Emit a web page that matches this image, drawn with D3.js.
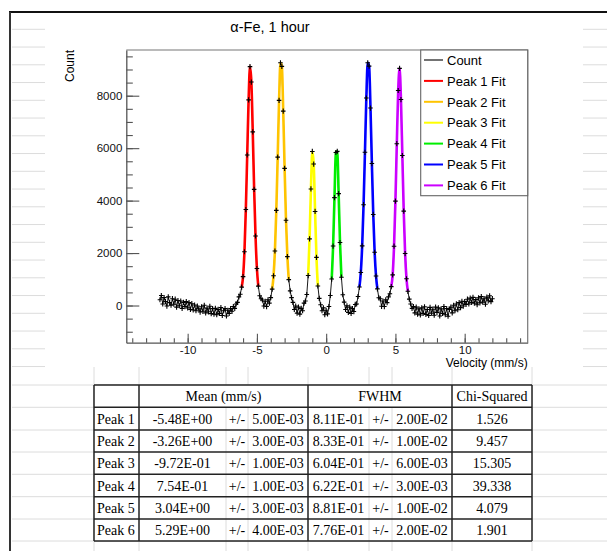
<!DOCTYPE html>
<html>
<head>
<meta charset="utf-8">
<script src="https://cdn.jsdelivr.net/npm/d3@7"></script>
<style>
    body { margin: 0; background: #fff; }
    svg { display: block; }
</style>
</head>
<body>
<svg id="sheet" width="607" height="551"></svg>
<script>
// Velocity bins (mm/s) and counts
var velocity = [
    -12.0, -11.9, -11.8, -11.7, -11.6, -11.5, -11.4, -11.3, -11.2, -11.1,
    -11.0, -10.9, -10.8, -10.7, -10.6, -10.5, -10.4, -10.3, -10.2, -10.1,
    -10.0, -9.9, -9.8, -9.7, -9.6, -9.5, -9.4, -9.3, -9.2, -9.1,
    -9.0, -8.9, -8.8, -8.7, -8.6, -8.5, -8.4, -8.3, -8.2, -8.1,
    -8.0, -7.9, -7.8, -7.7, -7.6, -7.5, -7.4, -7.3, -7.2, -7.1,
    -7.0, -6.9, -6.8, -6.7, -6.6, -6.5, -6.4, -6.3, -6.2, -6.1,
    -6.0, -5.9, -5.8, -5.7, -5.6, -5.5, -5.4, -5.3, -5.2, -5.1,
    -5.0, -4.9, -4.8, -4.7, -4.6, -4.5, -4.4, -4.3, -4.2, -4.1,
    -4.0, -3.9, -3.8, -3.7, -3.6, -3.5, -3.4, -3.3, -3.2, -3.1,
    -3.0, -2.9, -2.8, -2.7, -2.6, -2.5, -2.4, -2.3, -2.2, -2.1,
    -2.0, -1.9, -1.8, -1.7, -1.6, -1.5, -1.4, -1.3, -1.2, -1.1,
    -1.0, -0.9, -0.8, -0.7, -0.6, -0.5, -0.4, -0.3, -0.2, -0.1,
    0.0, 0.1, 0.2, 0.3, 0.4, 0.5, 0.6, 0.7, 0.8, 0.9,
    1.0, 1.1, 1.2, 1.3, 1.4, 1.5, 1.6, 1.7, 1.8, 1.9,
    2.0, 2.1, 2.2, 2.3, 2.4, 2.5, 2.6, 2.7, 2.8, 2.9,
    3.0, 3.1, 3.2, 3.3, 3.4, 3.5, 3.6, 3.7, 3.8, 3.9,
    4.0, 4.1, 4.2, 4.3, 4.4, 4.5, 4.6, 4.7, 4.8, 4.9,
    5.0, 5.1, 5.2, 5.3, 5.4, 5.5, 5.6, 5.7, 5.8, 5.9,
    6.0, 6.1, 6.2, 6.3, 6.4, 6.5, 6.6, 6.7, 6.8, 6.9,
    7.0, 7.1, 7.2, 7.3, 7.4, 7.5, 7.6, 7.7, 7.8, 7.9,
    8.0, 8.1, 8.2, 8.3, 8.4, 8.5, 8.6, 8.7, 8.8, 8.9,
    9.0, 9.1, 9.2, 9.3, 9.4, 9.5, 9.6, 9.7, 9.8, 9.9,
    10.0, 10.1, 10.2, 10.3, 10.4, 10.5, 10.6, 10.7, 10.8, 10.9,
    11.0, 11.1, 11.2, 11.3, 11.4, 11.5, 11.6, 11.7, 11.8, 11.9,
    12.0
];
var counts = [
    220, 380, 60, 300, 150, -20, 330, 110, 10, 260,
    50, 240, -60, 190, -10, 170, -110, 120, -40, 150,
    -90, 110, -150, 70, -170, 20, -200, -20, -130, -250,
    -50, -220, 10, -280, -100, -240, -30, -310, -120, -330,
    -110, -350, -150, -300, -80, -380, -200, -120, -400, -180,
    -300, -120, -220, -40, -110, 60, 120, 330, 430, 700,
    1100, 2050, 3660, 5740, 7840, 9110, 8520, 6620, 4430, 2650,
    1410, 740, 370, 260, 210, -20, 160, -40, 220, 90,
    300, 626, 1133, 2079, 3629, 5657, 7822, 9255, 9119, 7412,
    5228, 3249, 1865, 987, 558, 300, 120, -150, -20, -290,
    -60, -330, -110, -200, 90, 170, 418, 1143, 2541, 4444,
    5874, 5395, 3587, 1836, 746, 273, 30, -200, -90, -350,
    -180, -320, -40, 384, 1009, 2267, 4112, 5834, 5879, 4267,
    2403, 1080, 410, 130, -150, -10, -260, -60, -300, -120,
    -230, 40, 60, 344, 704, 1260, 2274, 3844, 5843, 7910,
    9255, 9128, 7529, 5414, 3473, 2030, 1124, 636, 295, 260,
    -30, 170, -40, 220, 110, 330, 450, 720, 1168, 2262,
    3982, 6170, 8199, 9041, 7853, 5721, 3599, 1981, 1018, 542,
    242, 60, -110, -40, -280, -60, -330, -130, -360, -90,
    -300, -50, -340, -150, -380, -70, -290, -140, -370, -60,
    -260, -90, -400, -130, -300, -40, -350, -120, -410, -150,
    -60, -280, 10, -200, 60, -160, 110, -80, 160, -20,
    150, 40, 240, 60, 280, 120, 310, 90, 230, 30,
    290, 100, 340, 130, 260, 50, 320, 180, 370, 150,
    260
];

// Fit ranges for each peak (mm/s)
var peakLabels = ["Peak 1", "Peak 2", "Peak 3", "Peak 4", "Peak 5", "Peak 6"];
var fitFrom = [-6.1, -3.9, -1.3, 0.4, 2.4, 4.7];
var fitTo = [-4.9, -2.7, -0.6, 1.1, 3.7, 5.9];
var peakColors = ["#ff0000", "#ffc400", "#ffff00", "#00ee00", "#0000ff", "#cc00ff"];

// Fit results table
var meanValues = ["-5.48E+00", "-3.26E+00", "-9.72E-01", "7.54E-01", "3.04E+00", "5.29E+00"];
var meanErrors = ["5.00E-03", "3.00E-03", "1.00E-03", "1.00E-03", "3.00E-03", "4.00E-03"];
var fwhmValues = ["8.11E-01", "8.33E-01", "6.04E-01", "6.22E-01", "8.81E-01", "7.76E-01"];
var fwhmErrors = ["2.00E-02", "1.00E-02", "6.00E-03", "3.00E-03", "1.00E-02", "2.00E-02"];
var chiSquared = ["1.526", "9.457", "15.305", "39.338", "4.079", "1.901"];

var xMajorTicks = [-10, -5, 0, 5, 10];
var yMajorTicks = [0, 2000, 4000, 6000, 8000];

var SANS = "'Liberation Sans', Arial, Helvetica, sans-serif";
var SERIF = "'Liberation Serif', 'Times New Roman', serif";
var GRID = "#dcdcdc";

var svg = d3.select("#sheet");

// ---- spreadsheet background -------------------------------------------
var sheet = svg.append("g");
var rowYs = d3.range(20).map(function(i) { return 29.3 + i * 17.75; });
rowYs.forEach(function(y) {
    sheet.append("line").attr("x1", 12).attr("x2", 45).attr("y1", y).attr("y2", y)
        .attr("stroke", GRID);
    sheet.append("line").attr("x1", 583).attr("x2", 607).attr("y1", y).attr("y2", y)
        .attr("stroke", GRID);
});

var tableRows = [385, 407.3, 430, 452, 474.3, 496.7, 519, 541];
var tableCols = [94, 139, 308, 452, 532];   // dark borders
var innerCols = [226, 248, 369, 392];       // plain grid lines inside cells
tableRows.forEach(function(y) {
    sheet.append("line").attr("x1", 12).attr("x2", 607).attr("y1", y).attr("y2", y)
        .attr("stroke", GRID);
});
tableCols.concat(innerCols).forEach(function(x) {
    sheet.append("line").attr("x1", x).attr("x2", x).attr("y1", 367).attr("y2", 551)
        .attr("stroke", GRID);
});

// Black frame of the sheet
sheet.append("line").attr("x1", 9).attr("x2", 607).attr("y1", 12).attr("y2", 12)
    .attr("stroke", "#111").attr("stroke-width", 2);
sheet.append("line").attr("x1", 10).attr("x2", 10).attr("y1", 12).attr("y2", 551)
    .attr("stroke", "#333").attr("stroke-width", 2);

// ---- chart image --------------------------------------------------------
var chart = svg.append("g");
chart.append("rect").attr("x", 45).attr("y", 13).attr("width", 538).attr("height", 354)
    .attr("fill", "#fff");

var frame = { left: 126.3, right: 527.7, top: 50, bottom: 342.7 };
var x = d3.scaleLinear().domain([-14.43, 14.55]).range([frame.left, frame.right]);
var y = d3.scaleLinear().domain([-1418, 9743]).range([frame.bottom, frame.top]);

chart.append("text")
    .attr("x", 270).attr("y", 31.5)
    .attr("text-anchor", "middle")
    .attr("font-family", SANS).attr("font-size", 14.5)
    .text("\u03b1-Fe, 1 hour");

// Frame top and right
chart.append("path")
    .attr("d", "M" + frame.left + "," + frame.top + "H" + frame.right + "V" + frame.bottom)
    .attr("fill", "none").attr("stroke", "#777").attr("stroke-width", 1.2);

function styleAxis(g) {
    g.attr("font-family", SANS).attr("font-size", 11.5);
    g.selectAll(".domain").attr("stroke", "#555").attr("stroke-width", 1.3);
    g.selectAll(".tick line").attr("stroke", "#555").attr("stroke-width", 1.1);
    g.selectAll(".tick text").attr("fill", "#111");
}

// Minor ticks first, majors on top
chart.append("g")
    .attr("transform", "translate(0," + frame.bottom + ")")
    .call(d3.axisBottom(x).tickValues(d3.range(-14, 15)).tickSize(-4.5).tickFormat(""))
    .call(styleAxis)
    .call(function(g) { g.select(".domain").remove(); });
chart.append("g")
    .attr("transform", "translate(0," + frame.bottom + ")")
    .call(d3.axisBottom(x).tickValues(xMajorTicks).tickSize(-9).tickSizeOuter(0)
        .tickPadding(3.5).tickFormat(function(d) { return String(d); }))
    .call(styleAxis);

chart.append("g")
    .attr("transform", "translate(" + frame.left + ",0)")
    .call(d3.axisLeft(y).tickValues(d3.range(-1000, 9501, 500)).tickSize(-6.5).tickFormat(""))
    .call(styleAxis)
    .call(function(g) { g.select(".domain").remove(); });
chart.append("g")
    .attr("transform", "translate(" + frame.left + ",0)")
    .call(d3.axisLeft(y).tickValues(yMajorTicks).tickSize(-13).tickSizeOuter(0)
        .tickPadding(4).tickFormat(function(d) { return String(d); }))
    .call(styleAxis);

chart.append("text")
    .attr("x", frame.right).attr("y", 366.5)
    .attr("text-anchor", "end")
    .attr("font-family", SANS).attr("font-size", 12)
    .text("Velocity (mm/s)");
chart.append("text")
    .attr("transform", "translate(73.5," + frame.top + ") rotate(-90)")
    .attr("text-anchor", "end")
    .attr("font-family", SANS).attr("font-size", 12)
    .text("Count");

// Data points joined by a thin line
var points = velocity.map(function(v, i) { return { v: v, c: counts[i] }; });
var line = d3.line()
    .x(function(d) { return x(d.v); })
    .y(function(d) { return y(d.c); });

chart.append("path")
    .datum(points)
    .attr("d", line)
    .attr("fill", "none").attr("stroke", "#000").attr("stroke-width", 0.9);

// Fit curves through the points inside each fit window
peakLabels.forEach(function(name, i) {
    var inRange = points.filter(function(d) {
        return d.v >= fitFrom[i] - 0.001 && d.v <= fitTo[i] + 0.001;
    });
    chart.append("path")
        .datum(inRange)
        .attr("d", line.curve(d3.curveMonotoneX))
        .attr("fill", "none")
        .attr("stroke", peakColors[i])
        .attr("stroke-width", 2.6);
    line.curve(d3.curveLinear);
});

chart.append("g").selectAll("path")
    .data(points)
    .join("path")
    .attr("transform", function(d) { return "translate(" + x(d.v) + "," + y(d.c) + ")"; })
    .attr("d", "M-2.3,0H2.3M0,-2.6V2.6")
    .attr("stroke", "#000").attr("stroke-width", 1.1);

// Legend
var legend = chart.append("g");
legend.append("rect")
    .attr("x", 420.7).attr("y", frame.top)
    .attr("width", frame.right - 420.7).attr("height", 145.7)
    .attr("fill", "#fff").attr("stroke", "#666").attr("stroke-width", 1.1);
var legendNames = ["Count"].concat(peakLabels.map(function(p) { return p + " Fit"; }));
var legendColors = ["#000"].concat(peakColors);
legendNames.forEach(function(name, i) {
    var cy = 60 + i * 20.9;
    legend.append("line")
        .attr("x1", 424).attr("x2", 443).attr("y1", cy).attr("y2", cy)
        .attr("stroke", legendColors[i]).attr("stroke-width", i === 0 ? 1.1 : 2);
    legend.append("text")
        .attr("x", 447).attr("y", cy + 4.7)
        .attr("font-family", SANS).attr("font-size", 13)
        .text(name);
});

// ---- results table ------------------------------------------------------
var table = svg.append("g").attr("font-family", SERIF).attr("font-size", 14);
table.append("rect")
    .attr("x", 94).attr("y", tableRows[0])
    .attr("width", 532 - 94).attr("height", tableRows[7] - tableRows[0])
    .attr("fill", "#fff");
// light grid inside the split value cells (not in the merged header)
innerCols.forEach(function(cx) {
    table.append("line").attr("x1", cx).attr("x2", cx)
        .attr("y1", tableRows[1]).attr("y2", tableRows[7])
        .attr("stroke", GRID);
});
tableRows.forEach(function(ry) {
    table.append("line").attr("x1", 94).attr("x2", 532).attr("y1", ry).attr("y2", ry)
        .attr("stroke", "#222").attr("stroke-width", 1.5);
});
tableCols.forEach(function(cx) {
    table.append("line").attr("x1", cx).attr("x2", cx)
        .attr("y1", tableRows[0]).attr("y2", tableRows[7])
        .attr("stroke", "#222").attr("stroke-width", 1.5);
});

function cell(txt, cx, row, anchor) {
    var mid = (tableRows[row] + tableRows[row + 1]) / 2;
    table.append("text")
        .attr("x", cx).attr("y", mid + 5)
        .attr("text-anchor", anchor || "middle")
        .text(txt);
}
cell("Mean (mm/s)", 223.5, 0);
cell("FWHM", 380, 0);
cell("Chi-Squared", 492, 0);
peakLabels.forEach(function(name, i) {
    var r = i + 1;
    cell(name, 97, r, "start");
    cell(meanValues[i], 182.5, r);
    cell("+/-", 237, r);
    cell(meanErrors[i], 278, r);
    cell(fwhmValues[i], 338.5, r);
    cell("+/-", 380.5, r);
    cell(fwhmErrors[i], 422, r);
    cell(chiSquared[i], 492, r);
});
</script>
</body>
</html>
